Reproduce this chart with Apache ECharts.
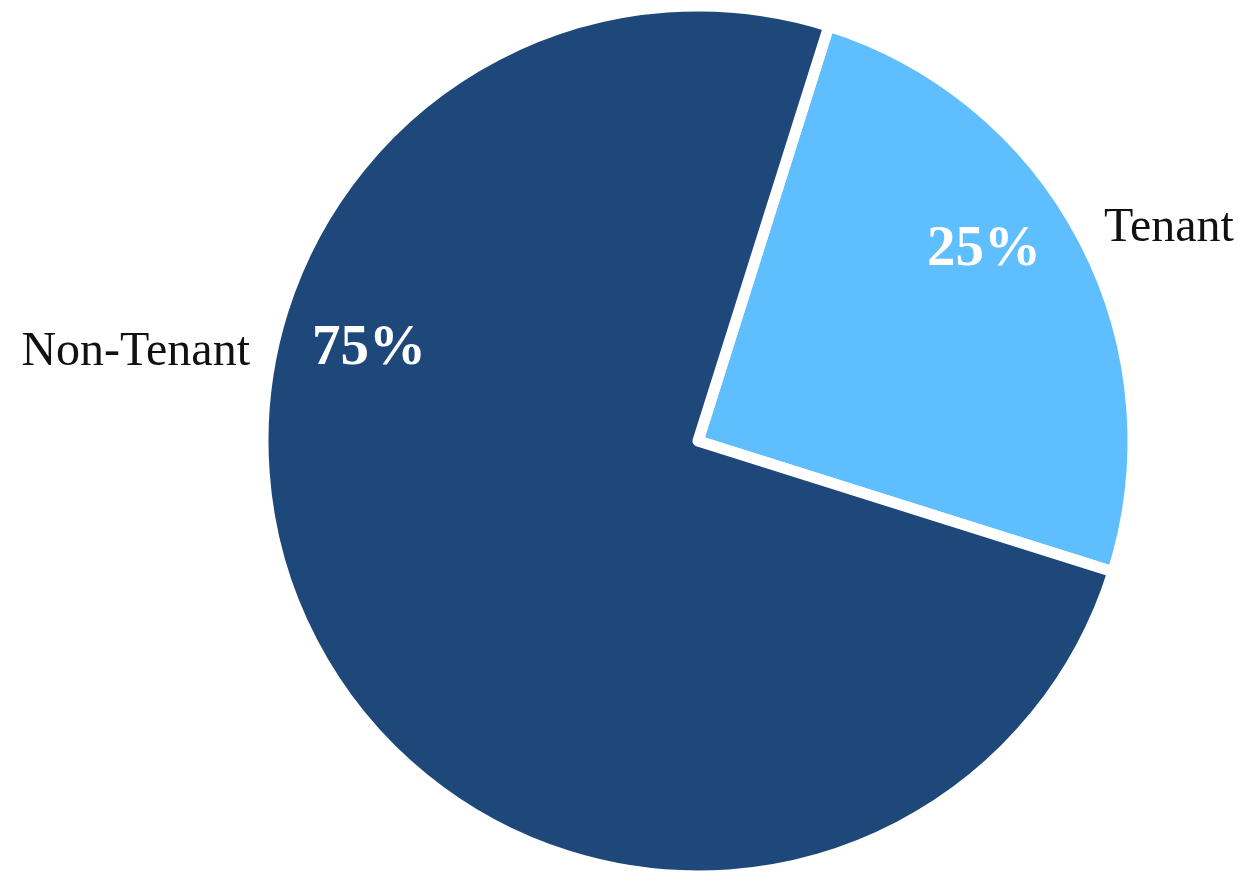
<!DOCTYPE html>
<html>
<head>
<meta charset="utf-8">
<script src="https://cdn.jsdelivr.net/npm/echarts@6/dist/echarts.min.js"></script>
<style>
html,body{margin:0;padding:0;background:#fff;}
#chart{width:1257px;height:882px;}
</style>
</head>
<body>
<div id="chart"></div>
<script>
const categories = ['Tenant', 'Non-Tenant'];
const values = [25, 75];
const colors = ['#5FBEFD', '#1F487A'];

// label positions (style)
const namePos = [{x:1104, y:228, align:'left'}, {x:250, y:352, align:'right'}];
const pctPos = [{x:984, y:250}, {x:369, y:349}];

const chart = echarts.init(document.getElementById('chart'));
const data = categories.map((c, i) => ({name: c, value: values[i], itemStyle: {color: colors[i]}}));
const center = [698, 441];
const R = 435;

chart.setOption({
  animation: false,
  series: [
    {
      type: 'pie',
      center: center,
      radius: [0, R],
      startAngle: 72.5,
      clockwise: true,
      data: data,
      itemStyle: {borderColor: '#fff', borderWidth: 11, borderJoin: 'round'},
      label: {
        show: true, position: 'outside', formatter: '{b}',
        fontFamily: 'Liberation Serif', fontSize: 48, color: '#111',
        overflow: 'none', width: 400
      },
      labelLine: {show: false},
      labelLayout: function (p) {
        const pos = namePos[p.dataIndex];
        return {x: pos.x, y: pos.y, align: pos.align, verticalAlign: 'middle', hideOverlap: false};
      },
      emphasis: {disabled: true}
    },
    {
      type: 'pie',
      center: center,
      radius: [0, R],
      startAngle: 72.5,
      clockwise: true,
      silent: true,
      data: categories.map((c, i) => ({name: c, value: values[i]})),
      itemStyle: {color: 'rgba(0,0,0,0)'},
      label: {
        show: true, position: 'inside',
        formatter: p => Math.round(p.percent) + '%',
        fontFamily: 'Liberation Serif', fontWeight: 'bold', fontSize: 57, color: '#fff'
      },
      labelLayout: function (p) {
        const pos = pctPos[p.dataIndex];
        return {x: pos.x, y: pos.y, align: 'center', verticalAlign: 'middle'};
      },
      emphasis: {disabled: true}
    }
  ]
});
</script>
</body>
</html>
